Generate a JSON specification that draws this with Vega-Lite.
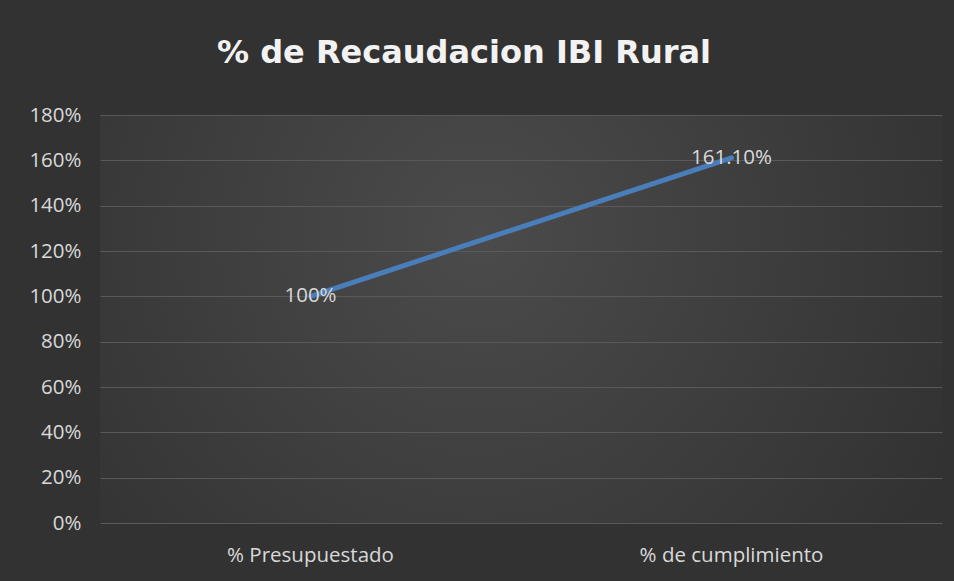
{
  "$schema": "https://vega.github.io/schema/vega-lite/v6.json",
  "width": 842,
  "height": 408,
  "autosize": {"type": "none"},
  "padding": {"left": 100, "top": 115, "right": 12, "bottom": 58},
  "background": "#323232",
  "title": {
    "text": "% de Recaudacion IBI Rural",
    "font": "DejaVu Sans",
    "fontSize": 32,
    "fontWeight": "bold",
    "color": "#f2f2f2",
    "anchor": "middle",
    "baseline": "alphabetic",
    "dx": -57,
    "offset": 10
  },
  "config": {
    "view": {
      "stroke": null,
      "fill": {
        "gradient": "radial",
        "x1": 0.45, "y1": 0.4, "r1": 0,
        "x2": 0.45, "y2": 0.4, "r2": 0.62,
        "stops": [
          {"offset": 0, "color": "#4b4b4b"},
          {"offset": 0.6, "color": "#3c3c3c"},
          {"offset": 1, "color": "#323232"}
        ]
      }
    },
    "axis": {
      "labelFont": "Open Sans",
      "labelFontSize": 20.5,
      "labelColor": "#d9d9d9",
      "labelLimit": 400,
      "domain": false,
      "ticks": false,
      "title": null
    }
  },
  "data": {
    "values": [
      {"categoria": "% Presupuestado", "valor": 1.0, "etiqueta": "100%"},
      {"categoria": "% de cumplimiento", "valor": 1.611, "etiqueta": "161.10%"}
    ]
  },
  "encoding": {
    "x": {
      "field": "categoria",
      "type": "nominal",
      "sort": null,
      "scale": {"type": "band", "paddingInner": 0, "paddingOuter": 0},
      "axis": {"labelAngle": 0, "labelPadding": 22, "grid": false}
    },
    "y": {
      "field": "valor",
      "type": "quantitative",
      "scale": {"domain": [0, 1.8], "nice": false},
      "axis": {
        "values": [0, 0.2, 0.4, 0.6, 0.8, 1.0, 1.2, 1.4, 1.6, 1.8],
        "format": ".0%",
        "labelPadding": 19,
        "grid": true,
        "gridColor": "#595959",
        "gridWidth": 1
      }
    }
  },
  "layer": [
    {
      "mark": {"type": "line", "color": "#4a7ebb", "strokeWidth": 5, "strokeCap": "round"},
      "encoding": {}
    },
    {
      "mark": {"type": "text", "font": "Open Sans", "fontSize": 20.5, "color": "#d9d9d9", "align": "center", "baseline": "middle"},
      "encoding": {"text": {"field": "etiqueta"}}
    }
  ]
}
